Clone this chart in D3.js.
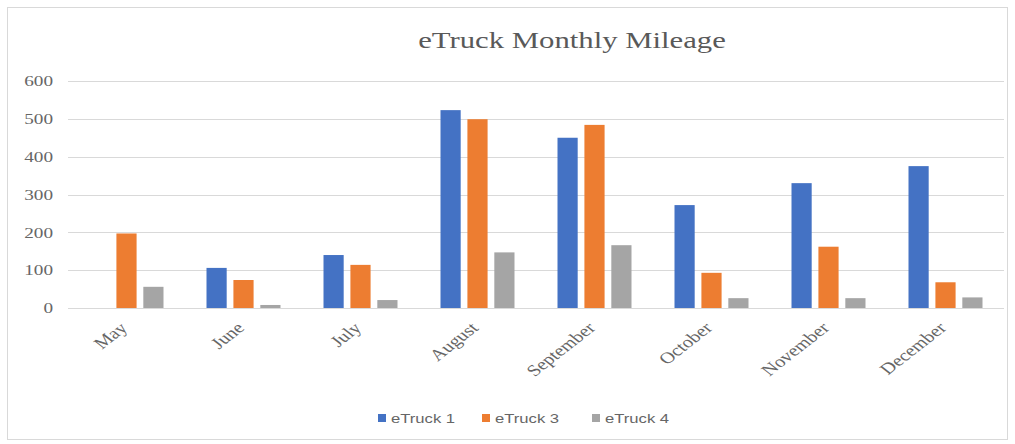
<!DOCTYPE html>
<html lang="en">
<head>
<meta charset="utf-8">
<title>eTruck Monthly Mileage</title>
<script src="https://cdnjs.cloudflare.com/ajax/libs/d3/7.8.5/d3.min.js"></script>
<style>
  body { margin: 0; background: #fff; }
</style>
</head>
<body>
<svg id="canvas" width="1015" height="444"></svg>
<script>
// data
const months = ["May", "June", "July", "August", "September", "October", "November", "December"];
const seriesNames = ["eTruck 1", "eTruck 3", "eTruck 4"];
const truck1 = [0, 106, 140, 523, 450, 272, 330, 375];
const truck3 = [197, 74, 114, 499, 484, 93, 162, 68];
const truck4 = [56, 8, 21, 147, 166, 26, 26, 28];
const yTicks = [0, 100, 200, 300, 400, 500, 600];
const colors = ["#4472C4", "#ED7D31", "#A5A5A5"];

const svg = d3.select("#canvas");
const stretch = 1.28; // the picture is a bit wider than tall

// chart frame
svg.append("rect")
  .attr("x", 7.5).attr("y", 7.5)
  .attr("width", 1000).attr("height", 432)
  .attr("fill", "#fff").attr("stroke", "#d9d9d9");

// title
svg.append("text")
  .attr("transform", "translate(572,48) scale(" + stretch + ",1)")
  .attr("text-anchor", "middle")
  .style("font-family", "'Liberation Serif', 'Times New Roman', serif")
  .style("font-size", "24px")
  .style("fill", "#595959")
  .text("eTruck Monthly Mileage");

// scales
let x = d3.scaleBand()
  .domain(months)
  .range([68, 1004]);

let xs = d3.scaleBand()
  .domain(seriesNames)
  .range([0, 74])
  .paddingInner(0.25);

let y = d3.scaleLinear()
  .domain([0, 600])
  .range([308, 81]);

// gridlines
svg.append("g")
  .selectAll("line")
  .data(yTicks)
  .join("line")
  .attr("x1", 68).attr("x2", 1004)
  .attr("y1", d => Math.round(y(d)) + 0.5)
  .attr("y2", d => Math.round(y(d)) + 0.5)
  .attr("stroke", "#d9d9d9")
  .attr("stroke-width", 1);

// y axis labels
let yAxis = d3.axisLeft(y).tickValues(yTicks).tickSize(0).tickPadding(0);
let gy = svg.append("g")
  .attr("transform", "translate(53,0)")
  .call(yAxis);
gy.select(".domain").remove();
gy.selectAll("text")
  .attr("x", 0)
  .attr("transform", "scale(" + stretch + ",1)")
  .style("font-family", "'Liberation Serif', 'Times New Roman', serif")
  .style("font-size", "15px")
  .style("fill", "#666");

// bars
const table = months.map((m, i) => ({
  month: m,
  values: [truck1[i], truck3[i], truck4[i]]
}));

let groups = svg.append("g")
  .selectAll("g")
  .data(table)
  .join("g")
  .attr("transform", d => "translate(" + (x(d.month) + (x.bandwidth() - 74) / 2) + ",0)");

groups.selectAll("rect")
  .data(d => d.values.map((v, j) => ({ name: seriesNames[j], value: v, j: j })))
  .join("rect")
  .attr("x", d => xs(d.name))
  .attr("width", xs.bandwidth())
  .attr("y", d => y(d.value))
  .attr("height", d => y(0) - y(d.value))
  .attr("fill", d => colors[d.j]);

// x axis labels, rotated
let xAxis = d3.axisBottom(x).tickSize(0).tickPadding(0);
let gx = svg.append("g")
  .attr("transform", "translate(0,308)")
  .call(xAxis);
gx.select(".domain").remove();
gx.selectAll("text")
  .attr("text-anchor", "end")
  .attr("y", 0)
  .attr("dy", 0)
  .attr("transform", "translate(2,21) scale(" + stretch + ",1) rotate(-45)")
  .style("font-family", "'Liberation Serif', 'Times New Roman', serif")
  .style("font-size", "16px")
  .style("fill", "#666");

// legend
const legendX = [378, 482, 592];
let legend = svg.append("g")
  .selectAll("g")
  .data(seriesNames)
  .join("g")
  .attr("transform", (d, i) => "translate(" + legendX[i] + ",422)");
legend.append("rect")
  .attr("x", 0).attr("y", -8)
  .attr("width", 8).attr("height", 8)
  .attr("fill", (d, i) => colors[i]);
legend.append("text")
  .attr("transform", "translate(13,1) scale(" + stretch + ",1)")
  .style("font-family", "'Liberation Sans', Arial, sans-serif")
  .style("font-size", "13px")
  .style("fill", "#666")
  .text(d => d);
</script>
</body>
</html>
